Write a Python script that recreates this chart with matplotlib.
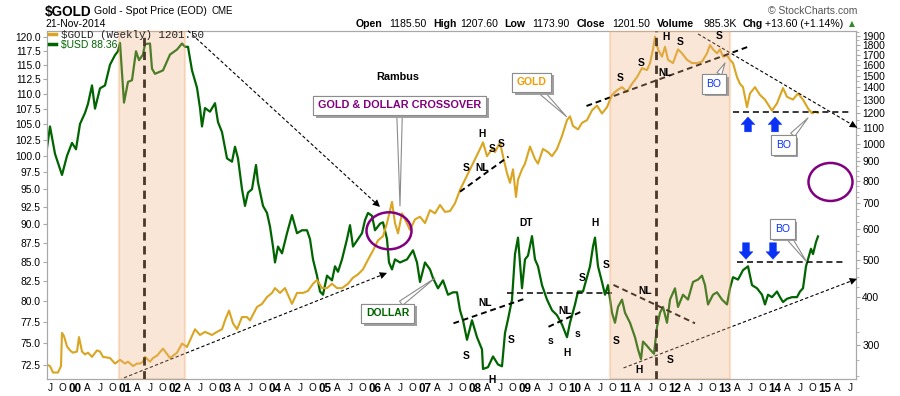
import matplotlib
matplotlib.use("Agg")
import matplotlib.pyplot as plt
import matplotlib.patheffects as pe
from matplotlib.lines import Line2D
from matplotlib.patches import Ellipse
from matplotlib.transforms import ScaledTranslation
from matplotlib.ticker import FixedLocator, FixedFormatter, NullFormatter

plt.rcParams.update({
    'font.family': ['Liberation Sans', 'DejaVu Sans'],
    'axes.linewidth': 0.8,
})

C_GOLD = '#DAA520'
C_USD = '#006400'
C_BAND = '#F0B482'
C_PURPLE = '#800080'
C_BLUE = '#0A32F5'
C_FRAME = '#A8A8A8'
C_ORANGE = '#F59A00'

# ---- weekly closes (decimal years) ----
usd_t = [1999.44, 1999.50, 1999.60, 1999.74, 1999.84, 1999.94, 2000.02, 2000.10, 2000.20, 2000.26,
         2000.34, 2000.40, 2000.50, 2000.60, 2000.70, 2000.80, 2000.86, 2000.90, 2000.98, 2001.06,
         2001.14, 2001.22, 2001.28, 2001.36, 2001.40, 2001.50, 2001.54, 2001.60, 2001.76, 2001.90,
         2002.04, 2002.14, 2002.20, 2002.26, 2002.34, 2002.44, 2002.50, 2002.54, 2002.60, 2002.70,
         2002.80, 2002.86, 2002.94, 2003.04, 2003.14, 2003.20, 2003.26, 2003.34, 2003.40, 2003.46,
         2003.54, 2003.62, 2003.66, 2003.76, 2003.84, 2003.90, 2003.96, 2004.00, 2004.06, 2004.14,
         2004.24, 2004.34, 2004.44, 2004.54, 2004.64, 2004.70, 2004.76, 2004.84, 2004.90, 2004.96,
         2005.04, 2005.14, 2005.20, 2005.26, 2005.34, 2005.44, 2005.50, 2005.56, 2005.66, 2005.74,
         2005.80, 2005.86, 2005.94, 2006.00, 2006.10, 2006.16, 2006.24, 2006.28, 2006.34, 2006.40,
         2006.50, 2006.64, 2006.76, 2006.84, 2006.90, 2007.00, 2007.10, 2007.16, 2007.26, 2007.36,
         2007.46, 2007.56, 2007.64, 2007.70, 2007.76, 2007.84, 2007.94, 2008.04, 2008.14, 2008.16,
         2008.26, 2008.36, 2008.46, 2008.54, 2008.60, 2008.66, 2008.74, 2008.80, 2008.86, 2008.94,
         2009.00, 2009.06, 2009.14, 2009.20, 2009.26, 2009.34, 2009.44, 2009.54, 2009.64, 2009.74,
         2009.84, 2009.90, 2010.00, 2010.06, 2010.16, 2010.24, 2010.30, 2010.36, 2010.40, 2010.46,
         2010.54, 2010.60, 2010.66, 2010.74, 2010.80, 2010.86, 2010.94, 2011.00, 2011.10, 2011.20,
         2011.26, 2011.32, 2011.36, 2011.44, 2011.50, 2011.58, 2011.64, 2011.70, 2011.76, 2011.84,
         2011.90, 2012.00, 2012.06, 2012.16, 2012.26, 2012.36, 2012.46, 2012.54, 2012.60, 2012.66,
         2012.76, 2012.84, 2012.94, 2013.04, 2013.10, 2013.16, 2013.26, 2013.36, 2013.46, 2013.54,
         2013.64, 2013.74, 2013.80, 2013.86, 2013.94, 2014.04, 2014.10, 2014.16, 2014.24, 2014.34,
         2014.44, 2014.50, 2014.56, 2014.62, 2014.66, 2014.72, 2014.76, 2014.82, 2014.86]
usd_v = [101.2, 104.6, 100.3, 97.1, 100.0, 102.0, 101.0, 105.0, 106.8, 108.3,
         111.4, 107.5, 110.9, 111.4, 115.0, 116.7, 117.4, 118.9, 108.5, 112.0,
         112.3, 117.4, 115.8, 116.8, 118.7, 118.8, 114.3, 113.4, 114.0, 116.8,
         117.7, 118.8, 118.2, 118.2, 114.0, 111.0, 107.6, 104.6, 107.6, 107.0,
         108.4, 105.3, 103.7, 99.6, 99.1, 101.4, 99.6, 95.0, 92.6, 94.5,
         95.0, 98.6, 96.0, 92.6, 91.6, 89.7, 87.0, 84.9, 87.0, 86.1,
         88.8, 91.3, 88.8, 89.2, 89.2, 88.0, 85.3, 83.2, 81.2, 80.8,
         83.2, 82.6, 84.4, 83.7, 85.3, 88.0, 89.9, 87.0, 88.0, 88.8,
         90.6, 91.6, 91.2, 89.2, 90.1, 90.3, 88.0, 84.9, 84.0, 85.3,
         84.9, 85.3, 86.5, 84.9, 82.4, 84.9, 84.0, 82.9, 81.6, 82.6,
         80.8, 81.1, 81.1, 78.9, 77.7, 75.4, 77.7, 75.7, 74.3, 72.1,
         72.3, 73.5, 72.6, 72.4, 76.2, 77.8, 80.2, 86.0, 88.2, 81.6,
         85.3, 85.8, 88.4, 85.3, 84.4, 82.0, 80.2, 78.9, 78.3, 77.2,
         75.7, 77.4, 79.6, 81.2, 81.2, 83.0, 84.4, 87.0, 88.2, 84.4,
         82.4, 80.8, 82.0, 78.6, 77.4, 79.3, 80.2, 78.6, 77.4, 75.7,
         74.3, 73.2, 75.2, 74.7, 74.3, 73.8, 76.9, 78.6, 79.3, 77.4,
         80.2, 81.6, 79.3, 80.8, 80.2, 82.4, 82.7, 83.2, 82.0, 79.6,
         80.8, 81.1, 80.2, 79.6, 81.6, 83.0, 82.7, 83.9, 84.4, 82.0,
         81.6, 80.8, 79.6, 80.8, 80.5, 81.2, 80.5, 79.9, 80.3, 80.5,
         80.5, 81.2, 81.6, 84.4, 85.3, 86.7, 86.0, 87.6, 88.36]

gold_t = [1999.44, 1999.50, 1999.56, 1999.66, 1999.72, 1999.74, 1999.78, 1999.84, 1999.90, 1999.96,
          2000.04, 2000.08, 2000.14, 2000.20, 2000.26, 2000.34, 2000.44, 2000.50, 2000.56, 2000.70,
          2000.80, 2000.90, 2001.00, 2001.06, 2001.16, 2001.24, 2001.30, 2001.36, 2001.40, 2001.46,
          2001.50, 2001.56, 2001.64, 2001.76, 2001.90, 2002.04, 2002.14, 2002.24, 2002.40, 2002.50,
          2002.60, 2002.74, 2002.84, 2002.94, 2003.00, 2003.08, 2003.16, 2003.24, 2003.34, 2003.44,
          2003.50, 2003.64, 2003.74, 2003.84, 2003.94, 2004.00, 2004.10, 2004.20, 2004.34, 2004.44,
          2004.56, 2004.66, 2004.76, 2004.84, 2004.94, 2005.04, 2005.14, 2005.24, 2005.34, 2005.46,
          2005.56, 2005.66, 2005.76, 2005.86, 2005.96, 2006.06, 2006.16, 2006.24, 2006.34, 2006.40,
          2006.46, 2006.54, 2006.60, 2006.70, 2006.80, 2006.90, 2007.00, 2007.10, 2007.20, 2007.30,
          2007.40, 2007.50, 2007.60, 2007.70, 2007.80, 2007.90, 2008.00, 2008.10, 2008.16, 2008.24,
          2008.34, 2008.40, 2008.50, 2008.56, 2008.64, 2008.70, 2008.76, 2008.82, 2008.86, 2008.94,
          2009.00, 2009.10, 2009.20, 2009.26, 2009.36, 2009.46, 2009.54, 2009.64, 2009.74, 2009.84,
          2009.90, 2009.96, 2010.06, 2010.14, 2010.24, 2010.34, 2010.44, 2010.54, 2010.64, 2010.74,
          2010.84, 2010.94, 2011.04, 2011.14, 2011.24, 2011.34, 2011.44, 2011.50, 2011.56, 2011.60,
          2011.66, 2011.74, 2011.80, 2011.86, 2011.96, 2012.06, 2012.14, 2012.24, 2012.34, 2012.44,
          2012.54, 2012.64, 2012.70, 2012.76, 2012.84, 2012.90, 2012.96, 2013.04, 2013.10, 2013.16,
          2013.24, 2013.30, 2013.36, 2013.44, 2013.50, 2013.60, 2013.70, 2013.80, 2013.94, 2014.04,
          2014.16, 2014.24, 2014.36, 2014.46, 2014.56, 2014.66, 2014.74, 2014.80, 2014.86]
gold_v = [267, 265, 255, 255, 265, 323, 317, 298, 291, 287,
          289, 315, 289, 284, 287, 280, 291, 289, 280, 278,
          269, 275, 269, 272, 265, 269, 269, 272, 280, 275,
          272, 278, 282, 294, 278, 287, 303, 297, 330, 319,
          325, 319, 325, 330, 348, 369, 342, 330, 355, 355,
          348, 377, 384, 400, 410, 422, 410, 422, 384, 410,
          410, 415, 433, 443, 422, 422, 433, 422, 422, 433,
          449, 458, 472, 500, 528, 561, 575, 622, 706, 622,
          585, 659, 636, 597, 636, 646, 622, 672, 659, 693,
          665, 668, 700, 758, 806, 857, 911, 968, 1007, 927,
          968, 950, 1007, 927, 838, 791, 857, 727, 806, 857,
          887, 982, 911, 887, 968, 950, 927, 968, 1046, 1150,
          1176, 1110, 1088, 1131, 1150, 1219, 1254, 1196, 1242, 1336,
          1374, 1400, 1362, 1428, 1486, 1568, 1550, 1616, 1754, 1892,
          1754, 1679, 1782, 1648, 1616, 1754, 1713, 1648, 1616, 1616,
          1630, 1713, 1800, 1754, 1713, 1754, 1679, 1690, 1648, 1616,
          1486, 1428, 1400, 1242, 1348, 1400, 1336, 1299, 1217, 1271,
          1392, 1321, 1300, 1348, 1299, 1233, 1197, 1209, 1201.5]

# shaded periods and the two dashed verticals
band_spans = [(2000.88, 2002.20), (2010.69, 2013.09)]
vline_dates = [2001.38, 2011.62]

usd_ticks = [72.5 + 2.5 * i for i in range(20)]
gold_ticks = list(range(300, 2000, 100))
gold_minor = [v for v in range(250, 1000, 25) if v % 100] + list(range(1050, 1951, 100))
quarter_letters = ['A', 'J', 'O']

# chart annotations (on the gold scale)
pattern_labels = [
    ('H', 2008.15, 1059), ('S', 2007.83, 863), ('S', 2008.35, 967), ('S', 2008.53, 996), ('NL', 2008.15, 863),
    ('S', 2010.90, 1476), ('S', 2011.33, 1614), ('H', 2011.82, 1885), ('S', 2012.11, 1837), ('S', 2012.89, 1900),
    ('NL', 2011.80, 1526),
    ('DT', 2009.02, 621), ('NL', 2008.20, 386), ('S', 2007.83, 282), ('S', 2008.73, 310), ('H', 2008.35, 244),
    ('NL', 2009.80, 369), ('s', 2009.51, 307), ('s', 2010.05, 321), ('H', 2009.85, 287),
    ('S', 2010.15, 449), ('H', 2010.40, 624), ('S', 2010.63, 485),
    ('S', 2010.83, 307), ('H', 2011.28, 259), ('S', 2011.90, 275), ('NL', 2011.40, 415),
]
neck_lines = [((2007.70, 750), (2008.67, 925)), ((2010.23, 1251), (2013.47, 1783)),
              ((2007.57, 342), (2008.97, 395)), ((2009.47, 335), (2010.17, 369)),
              ((2010.77, 430), (2012.40, 342))]
flat_lines = [((2013.16, 1205), (2015.52, 1205)), ((2013.24, 494), (2015.40, 494)),
              ((2008.63, 409), (2010.74, 409))]
thin_arrows = [((2002.26, 1960), (2006.10, 685)), ((2000.98, 247), (2006.24, 462)),
               ((2012.46, 1923), (2015.64, 1100)), ((2010.97, 262), (2015.64, 446))]

fig = plt.figure(figsize=(9, 3.96), dpi=100)
ax = fig.add_axes([47 / 900, 1 - 379 / 396, 809 / 900, 348 / 396])
ax2 = ax.twinx()

ax.plot(usd_t, usd_v, color=C_USD, lw=1.6, zorder=2)
ax2.plot(gold_t, gold_v, color=C_GOLD, lw=1.5, zorder=2.5)

ax.set_xlim(1999.44, 2015.62)
ax.set_yscale('log')
ax.set_ylim(71.0, 121.1)
ax2.set_yscale('log')
ax2.set_ylim(245.3, 1957)

# --- y axes ---
ax.yaxis.set_major_locator(FixedLocator(usd_ticks))
ax.yaxis.set_major_formatter(FixedFormatter([f'{v:.1f}' for v in usd_ticks]))
ax.yaxis.set_minor_formatter(NullFormatter())
ax.yaxis.set_minor_locator(FixedLocator([]))
ax2.yaxis.set_major_locator(FixedLocator(gold_ticks))
ax2.yaxis.set_major_formatter(FixedFormatter([str(v) for v in gold_ticks]))
ax2.yaxis.set_minor_locator(FixedLocator(gold_minor))
ax2.yaxis.set_minor_formatter(NullFormatter())
ax.tick_params(axis='y', length=3, width=0.8, color=C_FRAME, labelsize=7.4, pad=1.5)
ax2.tick_params(axis='y', which='major', length=3, width=0.8, color=C_FRAME, labelsize=7.4, pad=1.5)
ax2.tick_params(axis='y', which='minor', length=2, width=0.6, color=C_FRAME)

# --- x axis: quarters, bold two-digit years ---
xpos, xlab = [], []
for yr in range(1999, 2016):
    for k, lab in enumerate([f'{yr % 100:02d}'] + quarter_letters):
        p = yr + 0.25 * k
        if 1999.44 <= p <= 2015.62:
            xpos.append(p)
            xlab.append(lab)
ax.set_xticks(xpos, xlab)
ax.tick_params(axis='x', length=0, pad=3, labelsize=7.2)
for t in ax.get_xticklabels():
    if t.get_text().isdigit():
        t.set_fontweight('bold')
        t.set_fontsize(8.4)

for a in (ax, ax2):
    for s in a.spines.values():
        s.set_color(C_FRAME)

# --- shaded periods over the lines ---
for x0, x1 in band_spans:
    ax2.axvspan(x0, x1, facecolor=C_BAND, edgecolor='#F2A868', lw=1.6, alpha=0.32, zorder=3)
for xv in vline_dates:
    ax2.axvline(xv, color='#4A3828', lw=2, dashes=(3, 2), zorder=3.5)

# --- trend lines ---
for p0, p1 in neck_lines:
    ax2.plot([p0[0], p1[0]], [p0[1], p1[1]], color='k', lw=1.4, dashes=(3, 2), zorder=2.8)
for p0, p1 in flat_lines:
    ax2.plot([p0[0], p1[0]], [p0[1], p1[1]], color='k', lw=1.1, dashes=(4, 2.5), zorder=2.8)
for p0, p1 in thin_arrows:
    ax2.plot([p0[0], p1[0]], [p0[1], p1[1]], color='k', lw=0.8, dashes=(3, 2), zorder=2.8, clip_on=False)
    ax2.annotate('', xy=p1, xytext=p0, zorder=4,
                 arrowprops=dict(arrowstyle='-|>', color='k', lw=0, mutation_scale=13,
                                 shrinkA=0, shrinkB=0), annotation_clip=False)

for lab, xt, yv in pattern_labels:
    ax2.text(xt, yv, lab, ha='center', va='center', fontsize=7.4, fontweight='bold', zorder=5)

ax2.text(2006.46, 1488, 'Rambus', ha='center', va='center', fontsize=7.8, fontweight='bold', zorder=5)

# --- blue block arrows ---
for xt in (2013.46, 2014.00):
    ax2.annotate('', xy=(xt, 1172), xytext=(xt, 1072), zorder=5,
                 arrowprops=dict(arrowstyle='simple,head_width=1.0,head_length=0.55,tail_width=0.5',
                                 fc=C_BLUE, ec=C_BLUE, lw=0.3, shrinkA=0, shrinkB=0, mutation_scale=10))
for xt in (2013.42, 2013.96):
    ax2.annotate('', xy=(xt, 501), xytext=(xt, 553), zorder=5,
                 arrowprops=dict(arrowstyle='simple,head_width=1.0,head_length=0.55,tail_width=0.5',
                                 fc=C_BLUE, ec=C_BLUE, lw=0.3, shrinkA=0, shrinkB=0, mutation_scale=10))

# --- purple circles ---
for (xc, yc), w, h in [((2006.28, 594), 0.45, 0.37), ((2015.11, 795), 0.44, 0.38)]:
    el = Ellipse((0, 0), w, h, fill=False, ec=C_PURPLE, lw=1.8,
                 transform=fig.dpi_scale_trans + ScaledTranslation(xc, yc, ax2.transData))
    el.set_clip_on(False)
    el.set_zorder(5)
    ax2.add_artist(el)


# --- callout boxes ---
def callout(text, xytext, xy, color, weight='bold', size=7.5):
    a = ax2.annotate(text, xy=xy, xytext=xytext, ha='center', va='center', color=color,
                     fontsize=size, fontweight=weight, zorder=6, annotation_clip=False,
                     bbox=dict(boxstyle='square,pad=0.45', fc='white', ec='#8C8C8C', lw=0.8),
                     arrowprops=dict(arrowstyle='wedge,tail_width=0.5,shrink_factor=0.5',
                                     fc='white', ec='#8C8C8C', lw=0.8, shrinkA=0, shrinkB=0))
    a.get_bbox_patch().set_path_effects(
        [pe.withSimplePatchShadow(offset=(2, -2), shadow_rgbFace='#A0A0A0', alpha=1.0), pe.Normal()])
    return a


callout('GOLD & DOLLAR CROSSOVER', (2006.49, 1255), (2006.50, 689), C_PURPLE, size=7.8)
callout('DOLLAR', (2006.25, 363), (2007.20, 448), C_USD)
callout('GOLD', (2009.13, 1440), (2009.83, 1174), C_ORANGE)
callout('BO', (2012.78, 1427), (2013.00, 1617), C_BLUE, weight='normal')
callout('BO', (2014.17, 991), (2014.66, 1165), C_BLUE, weight='normal')
callout('BO', (2014.15, 601), (2014.63, 494), C_BLUE, weight='normal')

# --- in-chart legend ---
leg = ax2.legend([Line2D([], [], color=C_GOLD, lw=2.5), Line2D([], [], color=C_USD, lw=2.5)],
                 ['$GOLD (Weekly) 1201.50', '$USD 88.36'], loc='upper left',
                 bbox_to_anchor=(0.0, 1.01), frameon=False, handlelength=0.7, handletextpad=0.4,
                 labelspacing=0.05, borderaxespad=0.1, borderpad=0.1, fontsize=7.5)
leg_txt = leg.get_texts()
leg_txt[0].set_family('Liberation Mono')
leg_txt[0].set_fontsize(7.8)
leg_txt[0].set_color('#222222')
leg_txt[1].set_color(C_USD)
leg.set_zorder(7)


# --- header ---
def fx(px):
    return px / 900


def fy(py):
    return 1 - py / 396


fig.text(fx(45), fy(12), '$GOLD', fontsize=9.8, fontweight='bold', va='center')
fig.text(fx(94), fy(11), 'Gold - Spot Price (EOD)', fontsize=7.6, va='center')
fig.text(fx(212), fy(11), 'CME', fontsize=7, va='center')
fig.text(fx(45), fy(24), '21-Nov-2014', fontsize=7.5, va='center')
fig.text(fx(857), fy(11), '© StockCharts.com', fontsize=7.5, color='#555555', ha='right', va='center')

quote_keys = ['Open', 'High', 'Low', 'Close', 'Volume', 'Chg']
quote_vals = ['1185.50', '1207.60', '1173.90', '1201.50', '985.3K', '+13.60 (+1.14%)']
key_px = [356, 433, 504, 577, 657, 743]
val_px = [389, 460, 532, 612, 703, 765]
for k, v, kx, vx in zip(quote_keys, quote_vals, key_px, val_px):
    fig.text(fx(kx), fy(24), k, fontsize=7.6, fontweight='bold', va='center')
    fig.text(fx(vx), fy(24), v, fontsize=7.6, va='center')
fig.text(fx(849), fy(23.5), '▲', color='#2E8B2E', fontsize=5.5, family='DejaVu Sans', va='center')

fig.savefig('out.png', dpi=100)
